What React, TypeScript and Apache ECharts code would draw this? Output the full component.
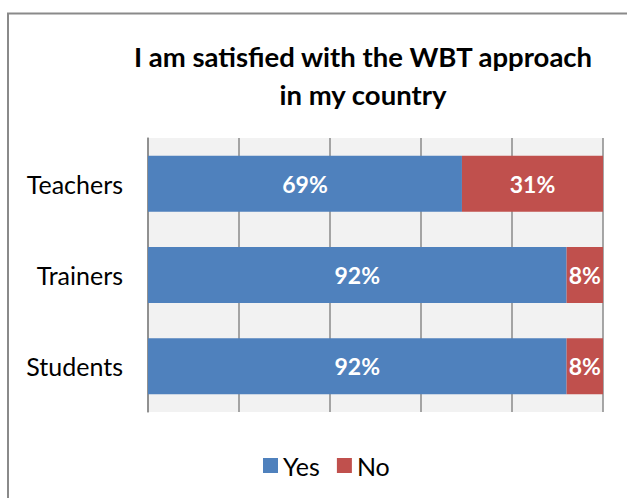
import React, { useEffect, useRef } from "react";
import * as echarts from "echarts";

const categories = ["Teachers", "Trainers", "Students"];
const yesValues = [69, 92, 92];
const noValues = [31, 8, 8];
const seriesNames = ["Yes", "No"];
const titleText = "I am satisfied with the WBT approach\nin my country";

const FONT = "Lato";

export default function App() {
  const ref = useRef<HTMLDivElement>(null);
  useEffect(() => {
    if (!ref.current) return;
    const chart = echarts.init(ref.current, undefined, { renderer: "svg" });
    const labelStyle = {
      show: true,
      position: "inside" as const,
      formatter: "{c}%",
      color: "#ffffff",
      fontFamily: FONT,
      fontWeight: "bold" as const,
      fontSize: 23,
    };
    chart.setOption({
      animation: false,
      backgroundColor: "#ffffff",
      title: {
        text: titleText,
        left: 363,
        top: 37,
        padding: 0,
        textAlign: "center",
        textStyle: {
          fontFamily: FONT,
          fontWeight: "bold",
          fontSize: 27.5,
          lineHeight: 38,
          color: "#000000",
        },
      },
      legend: {
        data: seriesNames,
        left: 263,
        top: 453,
        icon: "rect",
        itemWidth: 15,
        itemHeight: 15,
        itemGap: 17,
        padding: 0,
        textStyle: { fontFamily: FONT, fontSize: 25, color: "#000000" },
      },
      graphic: [
        {
          type: "rect",
          shape: { x: 8, y: 13.5, width: 700, height: 600 },
          style: { fill: "none", stroke: "#8a8a8a", lineWidth: 2 },
          silent: true,
          z: 100,
        },
      ],
      grid: {
        left: 148,
        right: 24,
        top: 138,
        bottom: 86,
        show: true,
        backgroundColor: "#f2f2f2",
        borderWidth: 0,
      },
      xAxis: {
        type: "value",
        min: 0,
        max: 100,
        interval: 20,
        axisLabel: { show: false },
        axisTick: { show: false },
        axisLine: { show: false },
        splitLine: { show: true, lineStyle: { color: "#8a8a8a", width: 1.5 } },
      },
      yAxis: {
        type: "category",
        data: categories,
        inverse: true,
        axisTick: { show: false },
        axisLine: { show: true, lineStyle: { color: "#8a8a8a", width: 1.5 } },
        axisLabel: {
          fontFamily: FONT,
          fontSize: 25,
          color: "#000000",
          margin: 25,
        },
      },
      series: [
        {
          name: seriesNames[0],
          type: "bar",
          stack: "total",
          data: yesValues,
          barWidth: 56,
          itemStyle: { color: "#4f81bd" },
          label: labelStyle,
        },
        {
          name: seriesNames[1],
          type: "bar",
          stack: "total",
          data: noValues,
          barWidth: 56,
          itemStyle: { color: "#c0504d" },
          label: labelStyle,
        },
      ],
    });
    return () => chart.dispose();
  }, []);
  return (
    <div
      ref={ref}
      style={{ position: "fixed", left: 0, top: 0, width: 627, height: 498 }}
    />
  );
}
